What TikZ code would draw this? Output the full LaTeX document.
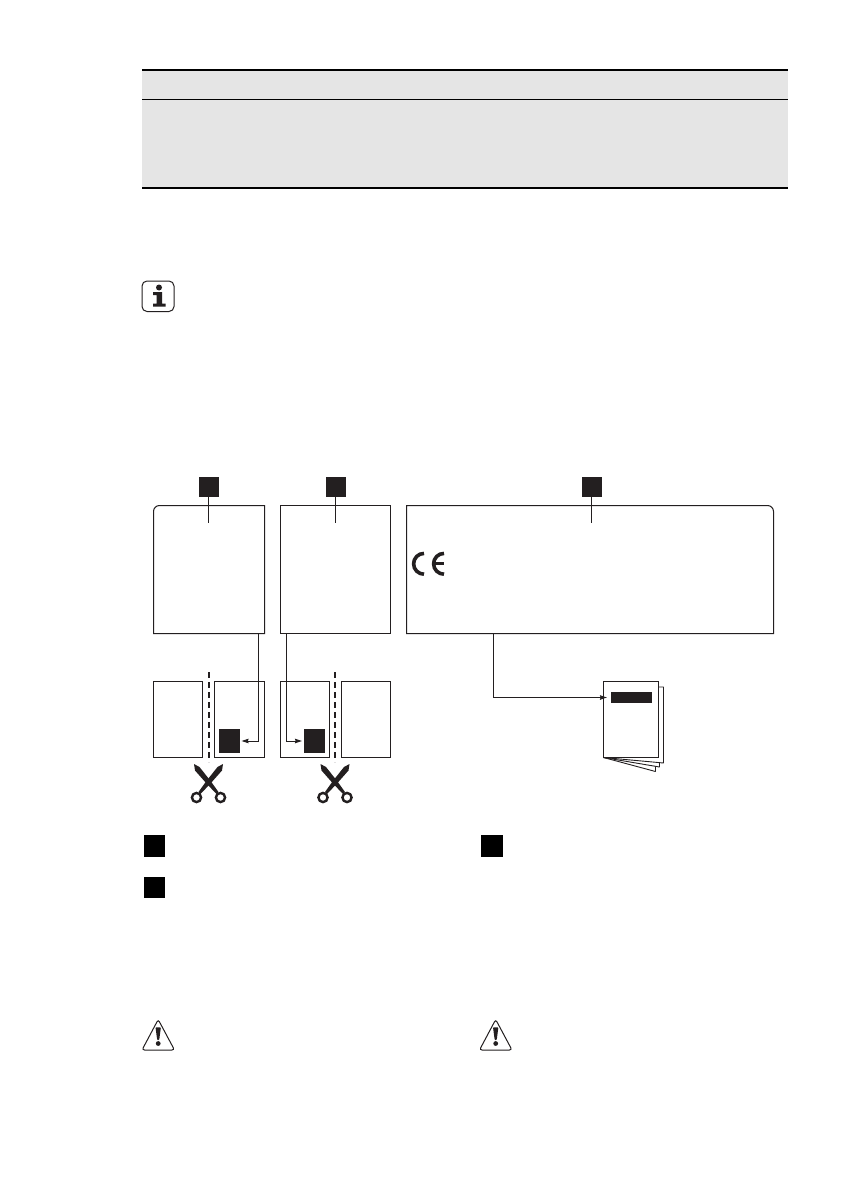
\documentclass[tikz,border=0pt]{standalone}
\usetikzlibrary{arrows.meta,calc}
\definecolor{ink}{HTML}{231F20}
\definecolor{tablegrey}{HTML}{E5E5E5}
\newcommand{\rectat}[6]{\node[#2,anchor=north west,minimum width={#5-#3},minimum height={#6-#4}] (#1) at (#3,#4) {};}
\newcommand{\scissorsat}[2]{%
 \begin{scope}[shift={(#1,#2)}]
  \fill[ink] (-14.5,-21.5) -- (-9,-18.5) -- (2.5,-4) -- (10,6.5) -- (8,8.5) -- (-2,-2) -- (-13.5,-15) -- cycle;
  \fill[ink] (14.5,-21.5) -- (9,-18.5) -- (-2.5,-4) -- (-10,6.5) -- (-8,8.5) -- (2,-2) -- (13.5,-15) -- cycle;
  \draw[ink,line width=2.4,fill=white] (-12,12) circle[radius=4.6];
  \draw[ink,line width=2.4,fill=white] (12,12) circle[radius=4.6];
 \end{scope}}
\newcommand{\warnat}[2]{%
 \begin{scope}[shift={(#1,#2)}]
  \draw[ink,line width=1,rounded corners=2.5] (16.7,0) -- (33,30.5) -- (0.5,30.5) -- cycle;
  \fill[ink,rounded corners=0.8] (14,7.8) -- (19.4,7.8) -- (17.7,20.5) -- (15.7,20.5) -- cycle;
  \fill[ink] (16.7,24) circle[radius=2.4];
 \end{scope}}
\tikzset{
 x=1pt,y=-1pt,
 plain/.style={inner sep=0pt,outer sep=0pt},
 panel/.style={plain,draw=ink,line width=1pt,fill=white},
 ghost/.style={plain},
 sq/.style={plain,fill=ink},
 marker/.style={plain,fill=black},
 conn/.style={draw=ink,line width=1pt},
 arrowconn/.style={conn,-{Stealth[length=7pt,width=4.5pt,inset=0.6pt]}},
 cut/.style={draw=ink,line width=2pt,dash pattern=on 6pt off 4pt},
 rule/.style={draw=black},
 sheet/.style={draw=ink,line width=0.9pt,fill=white,line join=bevel},
}
\begin{document}
\begin{tikzpicture}
\useasboundingbox (0,0) rectangle (840,1190);
\fill[white] (0,0) rectangle (840,1190);
% table
\fill[tablegrey] (142,70) rectangle (788,188);
\coordinate (tl) at (142,70); \coordinate (tr) at (788,70);
\coordinate (ml) at (142,99.5); \coordinate (mr) at (788,99.5);
\coordinate (bl) at (142,188); \coordinate (br) at (788,188);
\draw[rule,line width=2pt] (tl) -- (tr);
\draw[rule,line width=1pt] (ml) -- (mr);
\draw[rule,line width=2pt] (bl) -- (br);
% info icon
\draw[ink,line width=1pt,rounded corners=5] (142,281) rectangle (174,311.5);
\fill[ink] (159,287.5) circle[radius=3];
\fill[ink] (153,292) -- (162,292) -- (162,303.5) -- (165.5,303.5) -- (165.5,306.5) -- (153,306.5) -- (153,303.5) -- (156.5,303.5) -- (156.5,295) -- (153,295) -- cycle;
% upper label boxes
\rectat{box1}{ghost}{153.5}{505.5}{264.5}{633.5}
\rectat{box2}{panel}{280.5}{505.5}{390.5}{633.5}
\rectat{box3}{ghost}{406.5}{505.5}{773.5}{633.5}
\draw[ink,line width=1pt] (box1.south west) [rounded corners=6] -- (box1.north west) [sharp corners] -- (box1.north east) -- (box1.south east) -- cycle;
\draw[ink,line width=1pt] (box3.south west) -- (box3.north west) [rounded corners=6] -- (box3.north east) [sharp corners] -- (box3.south east) -- cycle;
% key markers
\rectat{m1}{sq}{198.5}{477}{218.5}{497}
\rectat{m2}{sq}{325.5}{477}{345.5}{497}
\rectat{m3}{sq}{581.5}{477}{601.5}{497}
\coordinate (l1) at (m1.center |- 0,523);
\coordinate (l2) at (m2.center |- 0,523);
\coordinate (l3) at (m3.center |- 0,523);
\draw[conn] (m1) -- (l1);
\draw[conn] (m2) -- (l2);
\draw[conn] (m3) -- (l3);
% CE mark
\draw[ink,line width=3.6pt] (424,553.4) arc[start angle=270,end angle=90,radius=10.4];
\draw[ink,line width=3.6pt] (444,553.4) arc[start angle=270,end angle=90,radius=10.4];
\draw[ink,line width=2.8pt] (434,563.8) -- (444,563.8);
% lower panels
\rectat{p1}{panel}{153.5}{681.5}{202.5}{757.5}
\rectat{p2}{panel}{214.5}{681.5}{264.5}{757.5}
\rectat{p3}{panel}{280.5}{681.5}{329.5}{757.5}
\rectat{p4}{panel}{341.5}{681.5}{390.5}{757.5}
\rectat{s1}{sq}{219}{729}{240}{753}
\rectat{s2}{sq}{304}{729}{325}{753}
\coordinate (c1a) at (209,672); \coordinate (c1b) at (209,762);
\coordinate (c2a) at (335,672); \coordinate (c2b) at (335,762);
\draw[cut] (c1a) -- (c1b);
\draw[cut] (c2a) -- (c2b);
\scissorsat{208.5}{785.5}
\scissorsat{335}{785.5}
% manual
\coordinate (sa) at (603.5,757.5);
\draw[sheet] (sa) -- (655.5,771.5) -- (655.5,760) -- cycle;
\draw[sheet] (sa) -- (659.5,767) -- (659.5,760) -- cycle;
\draw[sheet] (sa) -- (663.5,763) -- (663.5,687) -- (655,687) -- cycle;
\rectat{doc}{panel}{603.5}{681.5}{658.5}{757.5}
\rectat{bar}{sq}{611}{692}{652}{703}
% connectors
\coordinate (f1) at ($(box1.south east)+(-6,0)$);
\coordinate (f2) at ($(box2.south west)+(6,0)$);
\coordinate (f3) at (493.5,633.5);
\draw[arrowconn,shorten >=1.5pt] (f1) |- (s1.east);
\draw[arrowconn,shorten >=2pt] (f2) |- (s2.west);
\draw[arrowconn,shorten >=4pt] (f3) |- (bar.west);
% legend
\rectat{k1}{marker}{144}{835}{165}{857}
\rectat{k2}{marker}{144}{877}{165}{898}
\rectat{k3}{marker}{481}{835}{503}{857}
\warnat{141.5}{1019.5}
\warnat{479}{1019.5}
\end{tikzpicture}
\end{document}
